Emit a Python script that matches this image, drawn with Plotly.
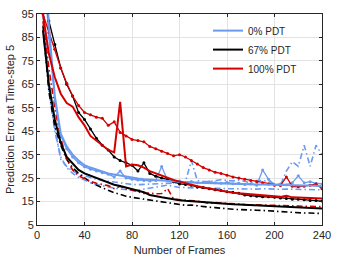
import plotly.graph_objects as go

frames = [5,10,15,20,25,30,35,40,45,50,55,60,65,70,75,80,85,90,95,100,105,110,115,120,
          125,130,135,140,145,150,155,160,165,170,175,180,185,190,195,200,205,210,215,220,225,230,235,240]

# 0% PDT (blue)
blue_solid = [140,90,60,44,38.5,35,32.5,30.5,29.5,28.5,27.8,27,26.5,26,25.5,25.2,24.8,24.5,24.3,24,23.8,23.6,23.4,23.3,
              23.2,23.1,23,22.9,22.8,22.8,22.7,22.6,22.6,22.5,22.5,22.4,22.3,22.3,22.2,22.2,22.1,22,22,21.9,21.9,21.8,21.8,21.5]
blue_mark = [120,85,58,43,37.5,34,31.5,29.8,28.8,28,27.3,26.7,25.5,28,25,24.5,24.2,24,23.8,24,30,24,23.4,23.8,
             23.2,23.6,23,23.2,23.5,23,22.8,23.2,22.6,22.8,22.3,22.6,22,28.5,24.5,22.2,22.5,22.2,23,26,23,23.5,22.8,22.5]
blue_dd1 = [95,62,45,34,29.5,27,25.3,24,23,22.3,21.7,21.2,20.7,20.4,20,19.8,19.9,20.3,20.5,21,21.5,22,21.5,21,
            21,20.8,20.8,20.6,20.7,20.5,20.6,20.5,20.4,20.5,20.3,20.4,20.3,20.5,20.3,20.4,20.2,20.3,20.2,20.3,20.1,20.2,20.1,20]
blue_dd2 = [100,66,46,33,30,28,26.8,26,25,24.5,24,23.6,23.2,23,22.6,22.3,22.2,22.3,22.4,22.5,22.6,22.8,22.9,23,
            23.5,32.5,24,23.5,23.5,24,24.3,24,23.8,24.2,23.5,23,24,24,23.5,22.5,22,28,32,30,39,30,39,35]

# 67% PDT (black)
black_solid = [88,65,50,40,34,31,28.5,27,26,25,24,23,22.2,21.6,21,20.4,19.8,19,17.8,17.2,16.8,16.4,15.9,15.6,
               15.3,15.2,15,14.8,14.6,14.4,14.1,13.9,13.8,13.7,13.6,13.5,13.3,13.2,13.1,13,12.8,12.6,12.5,12.4,12.3,12.2,12.1,12]
black_mark = [110,92,82,72,65,60,53,50,46,42,39,37,34,32.5,31.5,30.5,28,31.5,27,25.8,25,24.5,23.5,22.5,
              22.3,22,21.2,21,20.5,20,19.7,19.2,19,18.5,17.8,17.5,17.3,17,17,16.8,16.5,16.3,16,16,15.8,15.5,15.5,15.2]
black_dd = [90,62,47,39,33,29.5,27,25,23.3,22,20.8,19.8,18.8,18,17.3,16.8,16.4,16,15.6,15.3,14.8,14.3,13.9,13.6,
            13.4,13.5,13.1,12.8,12.6,12.4,12.1,11.8,11.7,11.6,11.4,11.3,11.3,11.2,11,10.9,10.6,10.4,10.3,10.2,10.1,10.1,10,9.9]

# 100% PDT (red)
red_mark = [95,87,80,72,65.5,60,56,53,52,51,50.5,47.5,49,44.5,43,41.5,41,40.5,38.5,37.5,36.5,35.5,34.5,35,
            34,32.5,31,29.5,28.5,27.5,27,26.2,25.5,25,24.5,24,23.5,23,22.5,22,21.8,25.5,21.5,21.3,21.5,22,22.5,20.5]
red_solid = [95,78,68,61,57,55.5,51,47.5,43,41,39,37,36,57.5,30,30.8,30.5,29.5,28,27,26,25.2,24.2,23.5,
             22.8,22,21.5,21,20.5,20,19.5,19.2,18.8,18.5,18.3,18,17.8,17.6,17.4,17.2,17,17.5,16.8,16.7,16.6,16.5,16.4,16.3]
red_dd = [92,72,55,42,33,28.5,26,24.8,23.6,22.8,22.2,21.8,20.5,21.5,20.5,19.8,19,18.5,18.7,18.3,18.4,20.5,16,15.8,
          15.5,15.6,15.2,14.8,14.2,14.6,14.5,14.2,14,13.9,13.7,13.6,13.5,13.5,13.4,13.3,13.3,13.2,13.1,13.1,13,13,12.9,12.8]

legend_names = ["0% PDT", "67% PDT", "100% PDT"]
x_ticks = [0, 40, 80, 120, 160, 200, 240]
y_ticks = [5, 15, 25, 35, 45, 55, 65, 75, 85, 95]

BLUE = "#6b9bf0"
BLACK = "#000000"
RED = "#d40000"

fig = go.Figure()

def add(y, color, dash="solid", width=1.8, markers=False, name=None, show=False):
    fig.add_trace(go.Scatter(
        x=frames, y=y, name=name, showlegend=show,
        mode="lines+markers" if markers else "lines",
        line=dict(color=color, width=width, dash=dash),
        marker=dict(size=3, color=color),
    ))

dashdot = "6px,3px,1.5px,3px"
add(blue_dd1, BLUE, dash=dashdot, width=1.6)
add(blue_dd2, BLUE, dash=dashdot, width=1.6)
add(black_dd, BLACK, dash=dashdot, width=1.6)
add(red_dd, RED, dash=dashdot, width=1.6)
add(blue_mark, BLUE, width=1.3, markers=True)
add(black_mark, BLACK, width=1.3, markers=True)
add(red_mark, RED, width=1.3, markers=True)
add(blue_solid, BLUE, width=2, name=legend_names[0], show=True)
add(black_solid, BLACK, width=2, name=legend_names[1], show=True)
add(red_solid, RED, width=2, name=legend_names[2], show=True)

axis_common = dict(
    showgrid=True, gridcolor="#e3e3e3", gridwidth=1,
    showline=True, linecolor="#262626", linewidth=1, mirror="allticks",
    ticks="inside", ticklen=3, tickcolor="#262626",
    tickfont=dict(family="Liberation Sans, Arial, sans-serif", size=11, color="#262626"),
    zeroline=False,
)

fig.update_layout(
    width=339, height=263,
    margin=dict(l=37, r=12, t=8, b=35),
    paper_bgcolor="white", plot_bgcolor="white",
    font=dict(family="Liberation Sans, Arial, sans-serif", size=11, color="#262626"),
    xaxis=dict(range=[0, 240], tickvals=x_ticks, **axis_common,
               title=dict(text="Number of Frames", standoff=6,
                          font=dict(size=11, color="#262626"))),
    yaxis=dict(range=[5, 95], tickvals=y_ticks, **axis_common,
               title=dict(text="Prediction Error at Time-step 5", standoff=4,
                          font=dict(size=11, color="#262626"))),
    legend=dict(x=0.6, y=0.99, xanchor="left", yanchor="top",
                bgcolor="rgba(255,255,255,0)", borderwidth=0,
                font=dict(size=10, color="#262626"), tracegroupgap=0,
                itemwidth=30),
)

fig.write_html("out.html", config={"displayModeBar": False})

with open("out.html", "r", encoding="utf-8") as f:
    html = f.read()
html = html.replace("<head>", "<head><style>html,body{margin:0;padding:0;overflow:hidden;}</style>", 1)
with open("out.html", "w", encoding="utf-8") as f:
    f.write(html)
